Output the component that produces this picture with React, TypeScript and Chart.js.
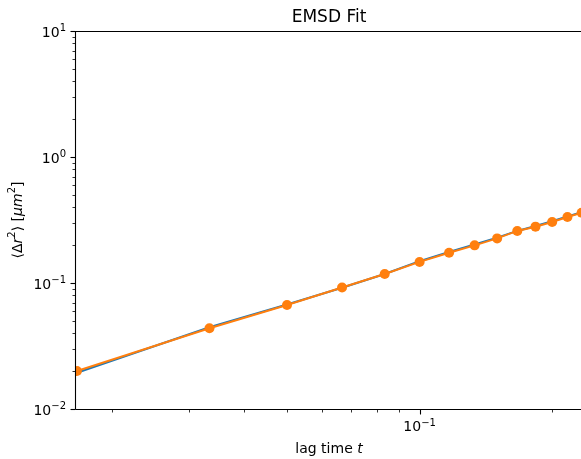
import React, { useEffect, useRef } from "react";
import { Chart, registerables } from "chart.js";
Chart.register(...registerables);

// lag time t (s)
const lagTimes = [0.01667, 0.03333, 0.05, 0.06667, 0.08333, 0.1, 0.11667, 0.13333, 0.15, 0.16667, 0.18333, 0.2, 0.21667, 0.23333];
// measured ensemble MSD (µm²)
const msdData = [0.0200, 0.0437, 0.0669, 0.0922, 0.118, 0.147, 0.174, 0.199, 0.226, 0.259, 0.280, 0.305, 0.334, 0.361];
// power-law fit
const msdFit = [0.0194, 0.0446, 0.0676, 0.0918, 0.118, 0.149, 0.176, 0.202, 0.229, 0.259, 0.283, 0.309, 0.337, 0.364];

const xMin = 0.0165;
const xMax = 0.235;
const yMin = 0.01;
const yMax = 10;
const xTickValues = [0.1];
const xTickExponents = ["−1"];
const yTickValues = [0.01, 0.1, 1, 10];
const yTickExponents = ["−2", "−1", "0", "1"];

const FONT = "'DejaVu Sans', sans-serif";

function minorValues(min: number, max: number) {
  const out: { v: number; major: boolean }[] = [];
  for (let e = Math.floor(Math.log10(min)) - 1; e <= Math.ceil(Math.log10(max)); e++) {
    for (let m = 1; m <= 9; m++) {
      const v = m * Math.pow(10, e);
      if (v >= min * 0.9999 && v <= max * 1.0001) out.push({ v, major: m === 1 });
    }
  }
  return out;
}

type Seg = { t: string; font: string; raise?: number };

function segWidth(ctx: CanvasRenderingContext2D, segs: Seg[]) {
  let w = 0;
  for (const s of segs) { ctx.font = s.font; w += ctx.measureText(s.t).width; }
  return w;
}
function drawSegs(ctx: CanvasRenderingContext2D, segs: Seg[], x: number, y: number) {
  for (const s of segs) {
    ctx.font = s.font;
    ctx.fillText(s.t, x, y - (s.raise || 0));
    x += ctx.measureText(s.t).width;
  }
}

const reg = "14px " + FONT;
const ita = "italic 14px " + FONT;
const sup = "10px " + FONT;

function powerSegs(exp: string): Seg[] {
  return [{ t: "10", font: reg }, { t: exp, font: sup, raise: 5.5 }];
}

const decor = {
  id: "decor",
  afterDatasetsDraw(chart: any) {
    const { ctx, chartArea: a, scales } = chart;
    ctx.save();
    ctx.strokeStyle = "#000";
    ctx.lineWidth = 1.1;
    ctx.beginPath();
    ctx.moveTo(a.left + 0.5, a.bottom + 0.5);
    ctx.lineTo(a.left + 0.5, a.top + 0.5);
    ctx.lineTo(a.right + 0.5, a.top + 0.5);
    ctx.lineTo(a.right + 0.5, a.bottom + 0.5);
    ctx.lineTo(a.left + 0.5, a.bottom + 0.5);
    ctx.stroke();
    for (const t of minorValues(yMin, yMax)) {
      const p = Math.round(scales.y.getPixelForValue(t.v)) + 0.5;
      ctx.lineWidth = t.major ? 1.1 : 0.8;
      ctx.beginPath();
      ctx.moveTo(a.left + 0.5, p);
      ctx.lineTo(a.left + 0.5 - (t.major ? 5 : 3), p);
      ctx.stroke();
    }
    for (const t of minorValues(xMin, xMax)) {
      const p = Math.round(scales.x.getPixelForValue(t.v)) + 0.5;
      ctx.lineWidth = t.major ? 1.1 : 0.8;
      ctx.beginPath();
      ctx.moveTo(p, a.bottom + 0.5);
      ctx.lineTo(p, a.bottom + 0.5 + (t.major ? 5 : 3));
      ctx.stroke();
    }
    ctx.fillStyle = "#000";
    ctx.textAlign = "left";
    ctx.textBaseline = "alphabetic";
    yTickValues.forEach((v, i) => {
      const p = scales.y.getPixelForValue(v);
      const segs = powerSegs(yTickExponents[i]);
      const w = segWidth(ctx, segs);
      drawSegs(ctx, segs, a.left - 9 - w, p + 5.5);
    });
    xTickValues.forEach((v, i) => {
      const p = scales.x.getPixelForValue(v);
      const segs = powerSegs(xTickExponents[i]);
      const w = segWidth(ctx, segs);
      drawSegs(ctx, segs, p - w / 2, a.bottom + 22);
    });
    ctx.textBaseline = "middle";
    const cx = (a.left + a.right) / 2;
    ctx.font = "17px " + FONT;
    const tt = "EMSD Fit";
    ctx.fillText(tt, cx - ctx.measureText(tt).width / 2, 18);
    const xl: Seg[] = [{ t: "lag time ", font: reg }, { t: "t", font: ita }];
    drawSegs(ctx, xl, cx - segWidth(ctx, xl) / 2, 449);
    const yl: Seg[] = [
      { t: "⟨Δ", font: reg },
      { t: "r", font: ita },
      { t: "2", font: sup, raise: 5.5 },
      { t: "⟩ [", font: reg },
      { t: "μm", font: ita },
      { t: "2", font: sup, raise: 5.5 },
      { t: "]", font: reg },
    ];
    ctx.save();
    ctx.translate(18, (a.top + a.bottom) / 2);
    ctx.rotate(-Math.PI / 2);
    drawSegs(ctx, yl, -segWidth(ctx, yl) / 2, 0);
    ctx.restore();
    ctx.restore();
  },
};

export default function App() {
  const ref = useRef<HTMLCanvasElement>(null);
  useEffect(() => {
    if (!ref.current) return;
    const chart = new Chart(ref.current, {
      type: "line",
      data: {
        labels: lagTimes,
        datasets: [
          {
            label: "data",
            data: lagTimes.map((t, i) => ({ x: t, y: msdData[i] })),
            borderColor: "#ff7f0e",
            backgroundColor: "#ff7f0e",
            borderWidth: 2,
            pointRadius: 5,
            pointBorderWidth: 0,
            pointBackgroundColor: "#ff7f0e",
            clip: 0,
            order: 0,
          },
          {
            label: "fit",
            data: lagTimes.map((t, i) => ({ x: t, y: msdFit[i] })),
            borderColor: "#1f77b4",
            backgroundColor: "#1f77b4",
            borderWidth: 2,
            pointRadius: 0,
            clip: 0,
            order: 1,
          },
        ],
      },
      options: {
        animation: false,
        responsive: false,
        devicePixelRatio: 1,
        layout: { padding: { top: 31, right: 17, left: 0, bottom: 0 } },
        plugins: { legend: { display: false }, title: { display: false }, tooltip: { enabled: false } },
        scales: {
          x: {
            type: "logarithmic",
            min: xMin,
            max: xMax,
            grid: { display: false },
            border: { display: false },
            afterBuildTicks: (s: any) => { s.ticks = xTickValues.map((v) => ({ value: v })); },
            afterFit: (s: any) => { s.height = 50; },
            ticks: { display: false },
          },
          y: {
            type: "logarithmic",
            min: yMin,
            max: yMax,
            grid: { display: false },
            border: { display: false },
            afterBuildTicks: (s: any) => { s.ticks = yTickValues.map((v) => ({ value: v })); },
            afterFit: (s: any) => { s.width = 75; },
            ticks: { display: false },
          },
        },
      },
      plugins: [decor],
    } as any);
    return () => chart.destroy();
  }, []);
  return (
    <div style={{ position: "fixed", left: 0, top: 0, width: 581, height: 459, overflow: "hidden", background: "#fff" }}>
      <canvas ref={ref} width={600} height={459} style={{ display: "block", width: 600, height: 459 }} />
    </div>
  );
}
